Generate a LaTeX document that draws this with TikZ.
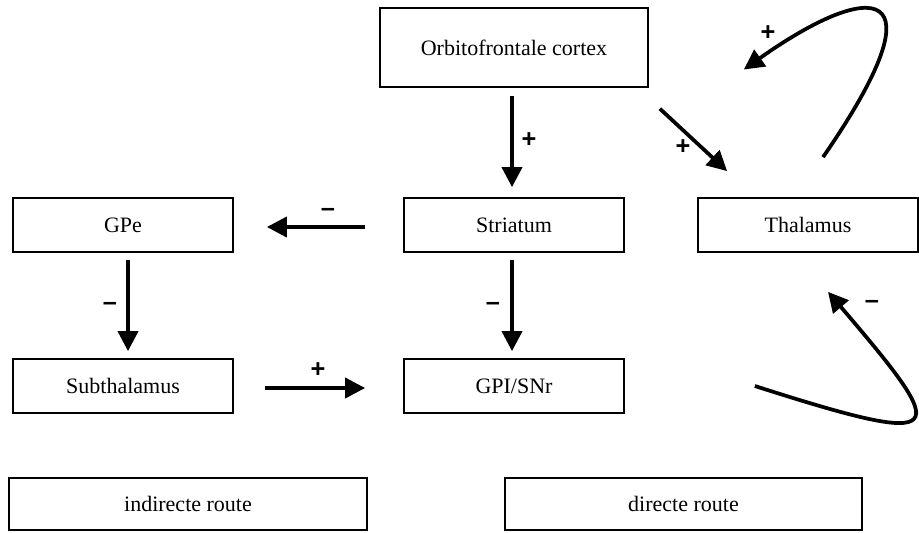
\documentclass[tikz,border=0pt]{standalone}
\usepackage{fontspec}
\setmainfont{Liberation Serif}
\newfontfamily\signfamily{Liberation Sans}
\usepackage{tikz}
\usetikzlibrary{arrows.meta, positioning}

\tikzset{
  box/.style={draw, line width=1.3pt, minimum width=165pt, minimum height=40.5pt,
    inner sep=0pt, font=\fontsize{16.5}{19}\selectfont},
  routebox/.style={box, minimum width=268pt, minimum height=39pt},
  sign/.style={inner sep=0pt, font=\signfamily\bfseries\fontsize{19}{19}\selectfont},
  arr/.style={line width=2.8pt, -{Triangle[length=15pt,width=15pt]}},
}

\begin{document}
\begin{tikzpicture}[x=0.75pt, y=-0.75pt]

    \useasboundingbox (0,0) rectangle (919,532);

    % Boxes
    \node[box, minimum width=201pt, minimum height=59pt] (orb) at (514,47.5) {Orbitofrontale cortex};
    \node[box] (gpe) at (123,225) {GPe};
    \node[box] (str) at (514,225) {Striatum};
    \node[box] (thal) at (808,225) {Thalamus};
    \node[box] (sub) at (123,386) {Subthalamus};
    \node[box] (gpi) at (514,386) {GPI/SNr};
    \node[routebox] (ind) at (188,504) {indirecte route};
    \node[routebox] (dir) at (683.5,504) {directe route};

    % Straight arrows
    \draw[arr, shorten <=6pt, shorten >=7.5pt] ([shift={(-2,0)}]orb.south) -- ([shift={(-2,0)}]str.north);
    \draw[arr] ([shift={(11,21)}]orb.south east) -- ([shift={(30,-26)}]thal.north west);
    \draw[arr, shorten <=28.5pt, shorten >=24.75pt] ([shift={(0,2)}]str.west) -- ([shift={(0,2)}]gpe.east);
    \draw[arr, shorten <=5pt, shorten >=5.25pt] ([shift={(5,0)}]gpe.south) -- ([shift={(5,0)}]sub.north);
    \draw[arr, shorten <=5pt, shorten >=5.25pt] ([shift={(-2,0)}]str.south) -- ([shift={(-2,0)}]gpi.north);
    \draw[arr, shorten <=23pt, shorten >=28.5pt] ([shift={(0,2)}]sub.east) -- ([shift={(0,2)}]gpi.west);

    % Curved arrows on the right
    \draw[arr] ([shift={(15,-40)}]thal.north) .. controls +(123,-178) and +(127,-90) .. ([shift={(95,22)}]orb.east);
    \draw[arr] ([shift={(130,0)}]gpi.east) .. controls +(200,64) and +(123,144) .. ([shift={(20,39)}]thal.south);

    % Signs
    \node[sign] (s1) at (529,140) {+};
    \node[sign] (s2) at (683,147) {+};
    \node[sign] (s3) at (768,33) {+};
    \node[sign] (s4) at (328,212) {\textendash};
    \node[sign] (s5) at (110,306) {\textendash};
    \node[sign] (s6) at (493,306) {\textendash};
    \node[sign] (s7) at (318,370) {+};
    \node[sign] (s8) at (872,304) {\textendash};

\end{tikzpicture}
\end{document}
